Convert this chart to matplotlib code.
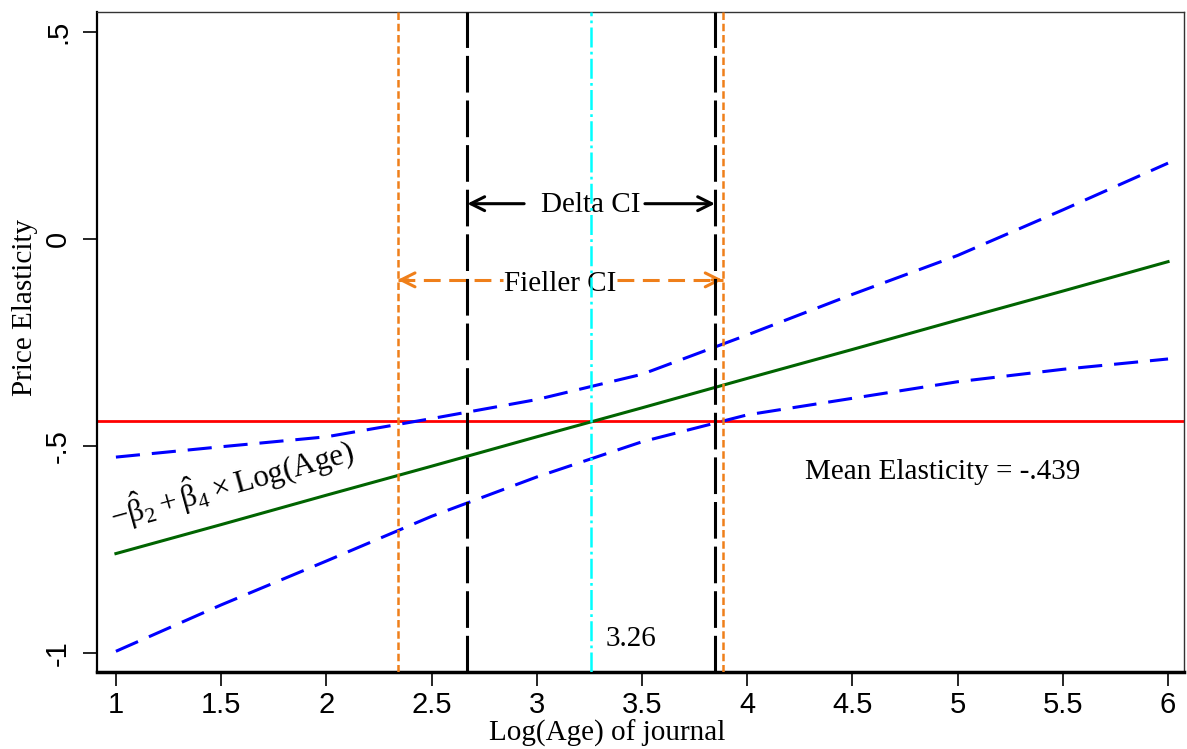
import matplotlib
matplotlib.use("Agg")
import matplotlib.pyplot as plt


# ---------------- DATA ---------------- #
log_age = [1.0, 1.5, 2.0, 2.5, 3.0, 3.5, 4.0, 4.5, 5.0, 5.5, 6.0]
elasticity = [-0.760, -0.690, -0.619, -0.549, -0.478, -0.408, -0.337, -0.267, -0.196, -0.126, -0.055]
ci_upper = [-0.527, -0.502, -0.478, -0.434, -0.388, -0.327, -0.232, -0.134, -0.040, 0.070, 0.183]
ci_lower = [-0.996, -0.884, -0.778, -0.670, -0.575, -0.490, -0.425, -0.385, -0.345, -0.315, -0.290]

mean_elasticity = -0.439
turning_point = 3.26
delta_ci = [2.67, 3.847]
fieller_ci = [2.339, 3.883]

xticks = [1, 1.5, 2, 2.5, 3, 3.5, 4, 4.5, 5, 5.5, 6]
xtick_labels = ["1", "1.5", "2", "2.5", "3", "3.5", "4", "4.5", "5", "5.5", "6"]
yticks = [0.5, 0, -0.5, -1]
ytick_labels = [".5", "0", "-.5", "-1"]

serif = "Liberation Serif"
sans = "Liberation Sans"
plt.rcParams["mathtext.fontset"] = "custom"
plt.rcParams["mathtext.rm"] = serif
plt.rcParams["mathtext.it"] = serif
plt.rcParams["mathtext.bf"] = serif

blue = "#0000ff"
green = "#006400"
red = "#ff0000"
orange = "#ef7f1a"
cyan = "#00ffff"

fig = plt.figure(figsize=(11.87, 7.49), dpi=100)
ax = fig.add_axes([0.0817, 0.1028, 0.9158, 0.8812])

# ---------------- LINES ---------------- #
ax.axhline(mean_elasticity, color=red, lw=2.0, zorder=2)
ax.plot(log_age, ci_upper, color=blue, lw=2.2, dashes=(7.9, 3.9), zorder=3)
ax.plot(log_age, ci_lower, color=blue, lw=2.2, dashes=(7.9, 3.9), zorder=3)
ax.plot(log_age, elasticity, color=green, lw=2.2, zorder=3)

for xv in fieller_ci:
    ax.axvline(xv, color=orange, lw=1.8, dashes=(3, 1.5), zorder=4)
for xv in delta_ci:
    ax.axvline(xv, color="black", lw=2.2, dashes=(12, 2.6), zorder=4)
ax.axvline(turning_point, color=cyan, lw=1.8, dashes=(8, 1.7, 1.1, 1.7), zorder=4)

# ---------------- ANNOTATIONS ---------------- #
ax.text(3.258, 0.065, "Delta CI", fontsize=21, family=serif, ha="center", va="baseline")
ax.annotate("", xy=(delta_ci[0], 0.085), xytext=(2.94, 0.085),
            arrowprops=dict(arrowstyle="->", color="black", lw=2.2, mutation_scale=25,
                            shrinkA=0, shrinkB=0))
ax.annotate("", xy=(delta_ci[1], 0.085), xytext=(3.514, 0.085),
            arrowprops=dict(arrowstyle="->", color="black", lw=2.2, mutation_scale=25,
                            shrinkA=0, shrinkB=0))

ax.text(3.11, -0.125, "Fieller CI", fontsize=21, family=serif, ha="center", va="baseline")
ax.plot([fieller_ci[0], 2.84], [-0.099, -0.099], color=orange, lw=2.2, dashes=(5.5, 2.8))
ax.plot([3.38, fieller_ci[1]], [-0.099, -0.099], color=orange, lw=2.2, dashes=(5.5, 2.8))
ax.annotate("", xy=(fieller_ci[0], -0.099), xytext=(fieller_ci[0] + 0.05, -0.099),
            arrowprops=dict(arrowstyle="->", color=orange, lw=2.2, mutation_scale=25,
                            shrinkA=0, shrinkB=0))
ax.annotate("", xy=(fieller_ci[1], -0.099), xytext=(fieller_ci[1] - 0.05, -0.099),
            arrowprops=dict(arrowstyle="->", color=orange, lw=2.2, mutation_scale=25,
                            shrinkA=0, shrinkB=0))

ax.text(3.329, -0.982, "3.26", fontsize=21, family=serif, ha="left", va="baseline")
ax.text(4.93, -0.580, "Mean Elasticity = -.439", fontsize=21, family=serif,
        ha="center", va="baseline")
ax.text(0.99, -0.700, r"$-\hat{\beta}_2 + \hat{\beta}_4 \times$Log(Age)", fontsize=22.5,
        family=serif, rotation=15.5, rotation_mode="anchor", ha="left", va="baseline")

# ---------------- AXES ---------------- #
ax.set_xlim(0.91, 6.076)
ax.set_ylim(-1.046, 0.548)
ax.set_xticks(xticks)
ax.set_xticklabels(xtick_labels, fontsize=21, family=sans)
ax.set_yticks(yticks)
ax.set_yticklabels(ytick_labels, fontsize=21, family=sans, rotation=90, va="center")
ax.tick_params(axis="x", length=10, width=1.2, pad=4)
ax.tick_params(axis="y", length=10, width=1.2, pad=8)

ax.spines["bottom"].set_linewidth(2.5)
ax.spines["left"].set_linewidth(1.6)
ax.spines["top"].set_linewidth(1.0)
ax.spines["right"].set_linewidth(1.0)
ax.spines["top"].set_color("#333333")
ax.spines["right"].set_color("#333333")

ax.set_xlabel("Log(Age) of journal", fontsize=21, family=serif)
ax.xaxis.set_label_coords(0.469, -0.072)
ax.set_ylabel("Price Elasticity", fontsize=21, family=serif)
ax.yaxis.set_label_coords(-0.054, 0.553)

fig.savefig("out.png", dpi=100)
